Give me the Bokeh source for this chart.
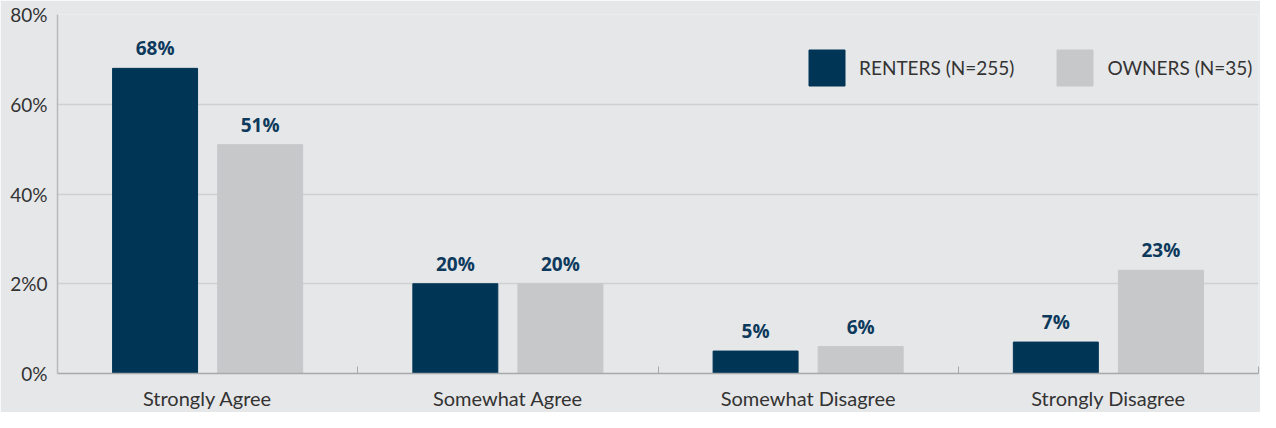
from bokeh.plotting import figure
from bokeh.models import Range1d, FixedTicker, ColumnDataSource, Legend, LegendItem
from bokeh.embed import file_html
from bokeh.resources import INLINE
from bokeh.core.properties import value
import numpy as np

categories = ["Strongly Agree", "Somewhat Agree", "Somewhat Disagree", "Strongly Disagree"]
renters = [68, 20, 5, 7]
owners = [51, 20, 6, 23]
series_names = ["RENTERS (N=255)", "OWNERS (N=35)"]
y_ticks = [0, 20, 40, 60, 80]
y_tick_labels = ["0%", "2%0", "40%", "60%", "80%"]

BG = "#e6e7e9"
NAVY = "#003556"
GREY = "#c7c8ca"
TXT = "#333333"
LBL = "#0d3a5c"

idx = np.arange(len(categories))
centers = idx + 0.5
off = 0.175
bw = 0.283

src_r = ColumnDataSource(dict(x=centers - off, top=renters, lab=[f"{v}%" for v in renters]))
src_o = ColumnDataSource(dict(x=centers + off, top=owners, lab=[f"{v}%" for v in owners]))

p = figure(width=1260, height=412, output_backend="svg", toolbar_location=None,
           x_range=Range1d(0, len(categories)), y_range=Range1d(0, 80),
           min_border_left=57, min_border_right=2, min_border_top=14, min_border_bottom=36)
p.background_fill_color = BG
p.border_fill_color = BG
p.outline_line_color = None

r1 = p.vbar(x="x", top="top", width=bw, source=src_r, color=NAVY)
r2 = p.vbar(x="x", top="top", width=bw, source=src_o, color=GREY)

for s in (src_r, src_o):
    p.text(x="x", y="top", text="lab", source=s, text_align="center", text_baseline="bottom",
           y_offset=-7, text_font=value("Open Sans"), text_font_style="bold",
           text_font_size="19px", text_color=LBL)

# x axis
p.xaxis.ticker = FixedTicker(ticks=list(centers), minor_ticks=list(range(len(categories) + 1)))
p.xaxis.major_label_overrides = {float(c): cat for c, cat in zip(centers, categories)}
p.xaxis.major_tick_line_color = None
p.xaxis.minor_tick_in = 7
p.xaxis.minor_tick_out = 0
p.xaxis.minor_tick_line_color = "#a8a9ab"
p.xaxis.axis_line_color = "#a8a9ab"
p.xaxis.axis_line_width = 1.5
p.xaxis.major_label_text_font = "Lato"
p.xaxis.major_label_text_font_size = "20px"
p.xaxis.major_label_text_color = TXT
p.xaxis.major_label_standoff = 6

# y axis
p.yaxis.ticker = FixedTicker(ticks=y_ticks)
p.yaxis.major_label_overrides = {t: l for t, l in zip(y_ticks, y_tick_labels)}
p.yaxis.major_tick_line_color = None
p.yaxis.minor_tick_line_color = None
p.yaxis.axis_line_color = "#b8b9bb"
p.yaxis.axis_line_width = 1.5
p.yaxis.major_label_text_font = "Lato"
p.yaxis.major_label_text_font_size = "19px"
p.yaxis.major_label_text_color = TXT
p.yaxis.major_label_standoff = 4

p.xgrid.grid_line_color = None
p.ygrid.grid_line_color = "#cfd0d2"
p.ygrid.grid_line_width = 1.5

legend = Legend(items=[LegendItem(label=series_names[0], renderers=[r1]),
                       LegendItem(label=series_names[1], renderers=[r2])],
                orientation="horizontal", location=(747, 283),
                glyph_width=45, glyph_height=45, label_standoff=10, spacing=38,
                padding=0, margin=0, border_line_color=None, background_fill_alpha=0,
                label_text_font="Lato", label_text_font_size="19px", label_text_color=TXT)
p.add_layout(legend)

open("out.html", "w").write(file_html(p, INLINE))
